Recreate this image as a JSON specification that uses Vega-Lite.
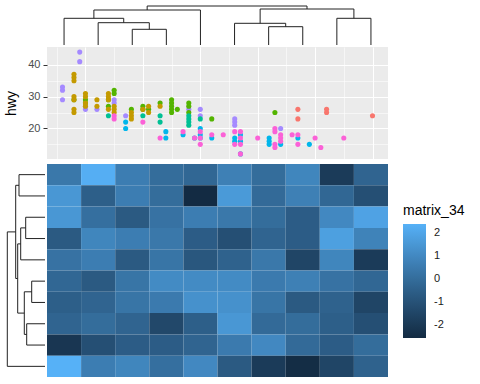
{
"$schema": "https://vega.github.io/schema/vega-lite/v6.json",
"padding": 0,
"autosize": {"type": "pad"},
"config": {"font": "Liberation Sans", "view": {"stroke": null}},
"bounds": "flush",
"columns": 2,
"spacing": 2,
"resolve": {"scale": {"color": "independent"}, "legend": {"color": "independent"}},
"datasets": {
"mpg": [
{"displ":1.6,"hwy":33,"class":"subcompact"},{"displ":1.6,"hwy":32,"class":"subcompact"},{"displ":1.6,"hwy":29,"class":"subcompact"},{"displ":1.9,"hwy":44,"class":"subcompact"},{"displ":1.9,"hwy":41,"class":"subcompact"},{"displ":2.0,"hwy":27,"class":"subcompact"},{"displ":2.0,"hwy":26,"class":"subcompact"},{"displ":2.2,"hwy":26,"class":"subcompact"},{"displ":2.5,"hwy":29,"class":"subcompact"},{"displ":2.5,"hwy":28,"class":"subcompact"},{"displ":2.7,"hwy":24,"class":"subcompact"},{"displ":3.8,"hwy":26,"class":"subcompact"},{"displ":4.0,"hwy":26,"class":"subcompact"},{"displ":4.0,"hwy":24,"class":"subcompact"},{"displ":4.6,"hwy":23,"class":"subcompact"},{"displ":4.6,"hwy":22,"class":"subcompact"},{"displ":4.6,"hwy":21,"class":"subcompact"},{"displ":5.4,"hwy":20,"class":"subcompact"},
{"displ":1.8,"hwy":29,"class":"midsize"},{"displ":2.0,"hwy":29,"class":"midsize"},{"displ":2.0,"hwy":28,"class":"midsize"},{"displ":2.4,"hwy":29,"class":"midsize"},{"displ":2.4,"hwy":27,"class":"midsize"},{"displ":2.5,"hwy":32,"class":"midsize"},{"displ":2.5,"hwy":31,"class":"midsize"},{"displ":2.8,"hwy":26,"class":"midsize"},{"displ":3.0,"hwy":27,"class":"midsize"},{"displ":3.0,"hwy":26,"class":"midsize"},{"displ":3.1,"hwy":26,"class":"midsize"},{"displ":3.3,"hwy":28,"class":"midsize"},{"displ":3.5,"hwy":29,"class":"midsize"},{"displ":3.5,"hwy":28,"class":"midsize"},{"displ":3.5,"hwy":27,"class":"midsize"},{"displ":3.5,"hwy":26,"class":"midsize"},{"displ":3.5,"hwy":25,"class":"midsize"},{"displ":3.6,"hwy":26,"class":"midsize"},{"displ":3.8,"hwy":28,"class":"midsize"},{"displ":3.8,"hwy":27,"class":"midsize"},{"displ":3.8,"hwy":25,"class":"midsize"},{"displ":4.2,"hwy":23,"class":"midsize"},{"displ":5.3,"hwy":25,"class":"midsize"},
{"displ":1.8,"hwy":37,"class":"compact"},{"displ":1.8,"hwy":36,"class":"compact"},{"displ":1.8,"hwy":35,"class":"compact"},{"displ":1.8,"hwy":30,"class":"compact"},{"displ":1.8,"hwy":29,"class":"compact"},{"displ":1.8,"hwy":26,"class":"compact"},{"displ":1.8,"hwy":25,"class":"compact"},{"displ":2.0,"hwy":31,"class":"compact"},{"displ":2.0,"hwy":30,"class":"compact"},{"displ":2.0,"hwy":28,"class":"compact"},{"displ":2.0,"hwy":27,"class":"compact"},{"displ":2.2,"hwy":29,"class":"compact"},{"displ":2.2,"hwy":27,"class":"compact"},{"displ":2.4,"hwy":31,"class":"compact"},{"displ":2.4,"hwy":30,"class":"compact"},{"displ":2.4,"hwy":29,"class":"compact"},{"displ":2.4,"hwy":26,"class":"compact"},{"displ":2.5,"hwy":27,"class":"compact"},{"displ":2.5,"hwy":26,"class":"compact"},{"displ":2.5,"hwy":25,"class":"compact"},{"displ":2.8,"hwy":25,"class":"compact"},{"displ":2.8,"hwy":24,"class":"compact"},{"displ":2.8,"hwy":23,"class":"compact"},{"displ":3.0,"hwy":26,"class":"compact"},{"displ":3.1,"hwy":27,"class":"compact"},{"displ":3.1,"hwy":25,"class":"compact"},{"displ":3.3,"hwy":27,"class":"compact"},
{"displ":2.4,"hwy":24,"class":"minivan"},{"displ":3.0,"hwy":24,"class":"minivan"},{"displ":3.3,"hwy":24,"class":"minivan"},{"displ":3.3,"hwy":22,"class":"minivan"},{"displ":3.8,"hwy":24,"class":"minivan"},{"displ":3.8,"hwy":23,"class":"minivan"},{"displ":3.8,"hwy":22,"class":"minivan"},{"displ":3.8,"hwy":21,"class":"minivan"},{"displ":4.0,"hwy":23,"class":"minivan"},
{"displ":2.7,"hwy":22,"class":"pickup"},{"displ":2.7,"hwy":20,"class":"pickup"},{"displ":3.4,"hwy":19,"class":"pickup"},{"displ":3.4,"hwy":17,"class":"pickup"},{"displ":3.7,"hwy":18,"class":"pickup"},{"displ":3.9,"hwy":17,"class":"pickup"},{"displ":4.0,"hwy":20,"class":"pickup"},{"displ":4.0,"hwy":18,"class":"pickup"},{"displ":4.0,"hwy":17,"class":"pickup"},{"displ":4.2,"hwy":17,"class":"pickup"},{"displ":4.6,"hwy":17,"class":"pickup"},{"displ":4.6,"hwy":16,"class":"pickup"},{"displ":4.7,"hwy":18,"class":"pickup"},{"displ":4.7,"hwy":16,"class":"pickup"},{"displ":4.7,"hwy":12,"class":"pickup"},{"displ":5.2,"hwy":17,"class":"pickup"},{"displ":5.2,"hwy":16,"class":"pickup"},{"displ":5.2,"hwy":15,"class":"pickup"},{"displ":5.4,"hwy":15,"class":"pickup"},{"displ":5.7,"hwy":17,"class":"pickup"},{"displ":5.9,"hwy":15,"class":"pickup"},
{"displ":2.5,"hwy":24,"class":"suv"},{"displ":2.5,"hwy":23,"class":"suv"},{"displ":3.0,"hwy":22,"class":"suv"},{"displ":3.3,"hwy":17,"class":"suv"},{"displ":3.7,"hwy":19,"class":"suv"},{"displ":3.9,"hwy":17,"class":"suv"},{"displ":4.0,"hwy":19,"class":"suv"},{"displ":4.0,"hwy":17,"class":"suv"},{"displ":4.0,"hwy":15,"class":"suv"},{"displ":4.2,"hwy":18,"class":"suv"},{"displ":4.4,"hwy":18,"class":"suv"},{"displ":4.6,"hwy":19,"class":"suv"},{"displ":4.6,"hwy":15,"class":"suv"},{"displ":4.7,"hwy":19,"class":"suv"},{"displ":4.7,"hwy":17,"class":"suv"},{"displ":4.7,"hwy":15,"class":"suv"},{"displ":4.7,"hwy":12,"class":"suv"},{"displ":5.0,"hwy":17,"class":"suv"},{"displ":5.3,"hwy":20,"class":"suv"},{"displ":5.3,"hwy":19,"class":"suv"},{"displ":5.3,"hwy":15,"class":"suv"},{"displ":5.3,"hwy":14,"class":"suv"},{"displ":5.4,"hwy":18,"class":"suv"},{"displ":5.4,"hwy":17,"class":"suv"},{"displ":5.4,"hwy":16,"class":"suv"},{"displ":5.6,"hwy":18,"class":"suv"},{"displ":5.7,"hwy":18,"class":"suv"},{"displ":5.7,"hwy":15,"class":"suv"},{"displ":6.0,"hwy":17,"class":"suv"},{"displ":6.1,"hwy":14,"class":"suv"},{"displ":6.5,"hwy":17,"class":"suv"},
{"displ":5.7,"hwy":26,"class":"2seater"},{"displ":5.7,"hwy":23,"class":"2seater"},{"displ":6.2,"hwy":26,"class":"2seater"},{"displ":6.2,"hwy":25,"class":"2seater"},{"displ":7.0,"hwy":24,"class":"2seater"}
],
"cells": [
{"row":1,"col":1,"v":0.4},{"row":1,"col":2,"v":2.3},{"row":1,"col":3,"v":0.6},{"row":1,"col":4,"v":0.0},{"row":1,"col":5,"v":-0.2},{"row":1,"col":6,"v":0.7},{"row":1,"col":7,"v":0.0},{"row":1,"col":8,"v":0.9},{"row":1,"col":9,"v":-1.9},{"row":1,"col":10,"v":-0.3},
{"row":2,"col":1,"v":1.5},{"row":2,"col":2,"v":-0.5},{"row":2,"col":3,"v":0.6},{"row":2,"col":4,"v":0.0},{"row":2,"col":5,"v":-2.57},{"row":2,"col":6,"v":1.6},{"row":2,"col":7,"v":-0.1},{"row":2,"col":8,"v":0.7},{"row":2,"col":9,"v":-0.2},{"row":2,"col":10,"v":-1.1},
{"row":3,"col":1,"v":1.5},{"row":3,"col":2,"v":0.1},{"row":3,"col":3,"v":-0.7},{"row":3,"col":4,"v":0.2},{"row":3,"col":5,"v":0.6},{"row":3,"col":6,"v":0.4},{"row":3,"col":7,"v":0.0},{"row":3,"col":8,"v":-0.6},{"row":3,"col":9,"v":1.0},{"row":3,"col":10,"v":1.9},
{"row":4,"col":1,"v":-0.7},{"row":4,"col":2,"v":0.9},{"row":4,"col":3,"v":0.6},{"row":4,"col":4,"v":0.4},{"row":4,"col":5,"v":-0.6},{"row":4,"col":6,"v":-1.1},{"row":4,"col":7,"v":-0.3},{"row":4,"col":8,"v":-0.6},{"row":4,"col":9,"v":1.8},{"row":4,"col":10,"v":0.8},
{"row":5,"col":1,"v":0.2},{"row":5,"col":2,"v":0.6},{"row":5,"col":3,"v":-0.7},{"row":5,"col":4,"v":0.3},{"row":5,"col":5,"v":-0.8},{"row":5,"col":6,"v":-0.4},{"row":5,"col":7,"v":0.4},{"row":5,"col":8,"v":-1.5},{"row":5,"col":9,"v":0.9},{"row":5,"col":10,"v":-1.9},
{"row":6,"col":1,"v":-0.2},{"row":6,"col":2,"v":-0.7},{"row":6,"col":3,"v":0.3},{"row":6,"col":4,"v":1.1},{"row":6,"col":5,"v":1.1},{"row":6,"col":6,"v":1.1},{"row":6,"col":7,"v":0.5},{"row":6,"col":8,"v":0.7},{"row":6,"col":9,"v":0.2},{"row":6,"col":10,"v":-0.2},
{"row":7,"col":1,"v":-0.5},{"row":7,"col":2,"v":-0.3},{"row":7,"col":3,"v":0.3},{"row":7,"col":4,"v":0.5},{"row":7,"col":5,"v":1.3},{"row":7,"col":6,"v":1.3},{"row":7,"col":7,"v":0.3},{"row":7,"col":8,"v":-0.7},{"row":7,"col":9,"v":-0.4},{"row":7,"col":10,"v":-1.5},
{"row":8,"col":1,"v":-0.3},{"row":8,"col":2,"v":0.0},{"row":8,"col":3,"v":-0.3},{"row":8,"col":4,"v":-1.4},{"row":8,"col":5,"v":-0.5},{"row":8,"col":6,"v":1.5},{"row":8,"col":7,"v":-0.1},{"row":8,"col":8,"v":0.0},{"row":8,"col":9,"v":-0.5},{"row":8,"col":10,"v":-1.1},
{"row":9,"col":1,"v":-2.1},{"row":9,"col":2,"v":-1.1},{"row":9,"col":3,"v":-0.6},{"row":9,"col":4,"v":-0.6},{"row":9,"col":5,"v":-0.3},{"row":9,"col":6,"v":0.5},{"row":9,"col":7,"v":1.0},{"row":9,"col":8,"v":-0.1},{"row":9,"col":9,"v":-0.6},{"row":9,"col":10,"v":0.0},
{"row":10,"col":1,"v":2.39},{"row":10,"col":2,"v":0.6},{"row":10,"col":3,"v":0.9},{"row":10,"col":4,"v":0.1},{"row":10,"col":5,"v":1.0},{"row":10,"col":6,"v":-0.7},{"row":10,"col":7,"v":-1.9},{"row":10,"col":8,"v":-2.5},{"row":10,"col":9,"v":-1.5},{"row":10,"col":10,"v":-0.4}
],
"topdendro": [
{"x":3,"x2":3,"y":0,"y2":15.7},{"x":4,"x2":4,"y":0,"y2":15.7},{"x":3,"x2":4,"y":15.7,"y2":15.7},
{"x":2,"x2":2,"y":0,"y2":22.3},{"x":3.5,"x2":3.5,"y":15.7,"y2":22.3},{"x":2,"x2":3.5,"y":22.3,"y2":22.3},
{"x":1,"x2":1,"y":0,"y2":26.7},{"x":2.75,"x2":2.75,"y":22.3,"y2":26.7},{"x":1,"x2":2.75,"y":26.7,"y2":26.7},
{"x":1.875,"x2":1.875,"y":26.7,"y2":35},{"x":5,"x2":5,"y":0,"y2":35},{"x":1.875,"x2":5,"y":35,"y2":35},
{"x":7,"x2":7,"y":0,"y2":18.3},{"x":8,"x2":8,"y":0,"y2":18.3},{"x":7,"x2":8,"y":18.3,"y2":18.3},
{"x":6,"x2":6,"y":0,"y2":21.7},{"x":7.5,"x2":7.5,"y":18.3,"y2":21.7},{"x":6,"x2":7.5,"y":21.7,"y2":21.7},
{"x":9,"x2":9,"y":0,"y2":26.7},{"x":10,"x2":10,"y":0,"y2":26.7},{"x":9,"x2":10,"y":26.7,"y2":26.7},
{"x":6.75,"x2":6.75,"y":21.7,"y2":36},{"x":9.5,"x2":9.5,"y":26.7,"y2":36},{"x":6.75,"x2":9.5,"y":36,"y2":36},
{"x":3.4375,"x2":3.4375,"y":35,"y2":39},{"x":8.125,"x2":8.125,"y":36,"y2":39},{"x":3.4375,"x2":8.125,"y":39,"y2":39}
],
"leftdendro": [
{"h":0,"h2":26,"r":1,"r2":1},{"h":0,"h2":26,"r":2,"r2":2},{"h":26,"h2":26,"r":1,"r2":2},
{"h":0,"h2":19.3,"r":3,"r2":3},{"h":0,"h2":19.3,"r":4,"r2":4},{"h":19.3,"h2":19.3,"r":3,"r2":4},
{"h":19.3,"h2":24.3,"r":3.5,"r2":3.5},{"h":0,"h2":24.3,"r":5,"r2":5},{"h":24.3,"h2":24.3,"r":3.5,"r2":5},
{"h":0,"h2":13.3,"r":6,"r2":6},{"h":0,"h2":13.3,"r":7,"r2":7},{"h":13.3,"h2":13.3,"r":6,"r2":7},
{"h":0,"h2":18.3,"r":8,"r2":8},{"h":0,"h2":18.3,"r":9,"r2":9},{"h":18.3,"h2":18.3,"r":8,"r2":9},
{"h":13.3,"h2":20.7,"r":6.5,"r2":6.5},{"h":18.3,"h2":20.7,"r":8.5,"r2":8.5},{"h":20.7,"h2":20.7,"r":6.5,"r2":8.5},
{"h":24.3,"h2":27.3,"r":4.25,"r2":4.25},{"h":20.7,"h2":27.3,"r":7.5,"r2":7.5},{"h":27.3,"h2":27.3,"r":4.25,"r2":7.5},
{"h":26,"h2":29.3,"r":1.5,"r2":1.5},{"h":27.3,"h2":29.3,"r":5.875,"r2":5.875},{"h":29.3,"h2":29.3,"r":1.5,"r2":5.875},
{"h":29.3,"h2":37.7,"r":3.6875,"r2":3.6875},{"h":0,"h2":37.7,"r":10,"r2":10},{"h":37.7,"h2":37.7,"r":3.6875,"r2":10}
]
},
"concat": [
{"width": 45, "height": 45, "data": {"values": [{}]}, "mark": {"type": "point", "opacity": 0}, "encoding": {}},
{"width": 341, "height": 45, "data": {"name": "topdendro"},
 "mark": {"type": "rule", "color": "#222222", "strokeWidth": 1},
 "encoding": {
  "x": {"field": "x", "type": "quantitative", "scale": {"domain": [0.5, 10.5], "nice": false, "zero": false}, "axis": null},
  "x2": {"field": "x2"},
  "y": {"field": "y", "type": "quantitative", "scale": {"domain": [0, 45], "nice": false}, "axis": null},
  "y2": {"field": "y2"}
 }},
{"width": 45, "height": 115, "data": {"values": [{}]}, "mark": {"type": "point", "opacity": 0}, "encoding": {}},
{"width": 341, "height": 112, "data": {"name": "mpg"}, "view": {"fill": "#EBEBEB", "stroke": null},
 "mark": {"type": "circle", "size": 26, "opacity": 1},
 "encoding": {
  "x": {"field": "displ", "type": "quantitative", "scale": {"domain": [1.33, 7.27], "nice": false, "zero": false},
   "axis": {"title": null, "labels": false, "ticks": false, "domain": false, "values": [1.5, 2, 2.5, 3, 3.5, 4, 4.5, 5, 5.5, 6, 6.5, 7], "grid": true, "gridColor": "#FFFFFF", "gridOpacity": 1,
    "gridWidth": {"condition": {"test": "datum.value % 1 === 0", "value": 1.1}, "value": 0.55}}},
  "y": {"field": "hwy", "type": "quantitative", "scale": {"domain": [10.4, 45.6], "nice": false, "zero": false},
   "axis": {"title": "hwy", "titleFontSize": 14, "titleFontWeight": "normal", "titleColor": "#000000", "titlePadding": 9,
    "values": [15, 20, 25, 30, 35, 40], "labelExpr": "datum.value % 10 === 0 ? datum.label : ''",
    "labelFontSize": 11, "labelColor": "#4D4D4D", "labelPadding": 3, "tickSize": 4, "tickColor": "#333333",
    "tickOpacity": {"condition": {"test": "datum.value % 10 === 0", "value": 1}, "value": 0},
    "domain": false, "grid": true, "gridColor": "#FFFFFF", "gridOpacity": 1,
    "gridWidth": {"condition": {"test": "datum.value % 10 === 0", "value": 1.1}, "value": 0.55}}},
  "color": {"field": "class", "type": "nominal", "legend": null,
   "scale": {"domain": ["2seater", "compact", "midsize", "minivan", "pickup", "subcompact", "suv"],
    "range": ["#F8766D", "#C49A00", "#53B400", "#00C094", "#00B6EB", "#A58AFF", "#FB61D7"]}}
 }},
{"width": 45, "height": 213, "data": {"name": "leftdendro"},
 "mark": {"type": "rule", "color": "#222222", "strokeWidth": 1},
 "encoding": {
  "x": {"field": "h", "type": "quantitative", "scale": {"domain": [0, 45], "nice": false, "reverse": true}, "axis": null},
  "x2": {"field": "h2"},
  "y": {"field": "r", "type": "quantitative", "scale": {"domain": [0.5, 10.5], "nice": false, "zero": false, "reverse": true}, "axis": null},
  "y2": {"field": "r2"}
 }},
{"width": 341, "height": 213, "data": {"name": "cells"},
 "mark": {"type": "rect"},
 "encoding": {
  "x": {"field": "col", "type": "ordinal", "axis": null},
  "y": {"field": "row", "type": "ordinal", "axis": null},
  "color": {"field": "v", "type": "quantitative",
   "scale": {"domain": [-2.57, 2.39], "range": ["#132B43", "#56B1F7"], "interpolate": "lab"},
   "legend": {"title": "matrix_34", "orient": "none", "legendX": 356, "legendY": 40, "values": [-2, -1, 0, 1, 2],
    "labelExpr": "datum.value < 0 ? '-' + abs(datum.value) : '' + datum.value",
    "gradientLength": 114, "gradientThickness": 23, "gradientStrokeWidth": 0,
    "titleFontSize": 14, "titleFontWeight": "normal", "titleColor": "#000000", "titlePadding": 6,
    "labelFontSize": 11, "labelColor": "#1A1A1A", "labelOffset": 8}}
 }}
]
}
